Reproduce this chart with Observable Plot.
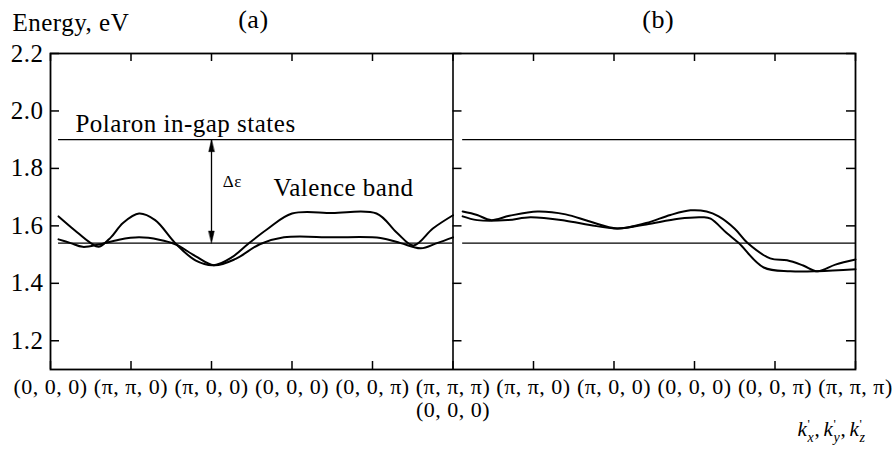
<!DOCTYPE html>
<html>
<head>
<meta charset="utf-8">
<script src="https://cdn.jsdelivr.net/npm/d3@7"></script>
<script src="https://cdn.jsdelivr.net/npm/@observablehq/plot@0.6"></script>
<style>
  body { margin: 0; background: #fff; font-family: "Liberation Serif", serif; }
  svg { display: block; }
</style>
</head>
<body>
<div id="chart"></div>
<script>
// ---------- data ----------
const kTicks = [0, 1, 2, 3, 4, 5, 6, 7, 8, 9, 10];
const kTickLabels = [
  "(0, 0, 0)", "(π, π, 0)", "(π, 0, 0)", "(0, 0, 0)", "(0, 0, π)",
  "(π, π, π)\n(0, 0, 0)",
  "(π, π, 0)", "(π, 0, 0)", "(0, 0, 0)", "(0, 0, π)", "(π, π, π)"
];
const energyTicks = [1.2, 1.4, 1.6, 1.8, 2.0, 2.2];
const energyDomain = [1.1, 2.2];
const panelLabels = ["(a)", "(b)"];
const panelCenters = [2.52, 7.55];
const panelDivider = [5];

// panel (a), band 1
const bandA1K = [0.1, 0.3, 0.5, 0.6, 0.75, 0.9, 1.1, 1.3, 1.55, 1.8, 2.03, 2.25, 2.45, 2.7, 3.0, 3.5, 4.05, 4.3, 4.51, 4.75, 5.0];
const bandA1E = [1.633, 1.585, 1.54, 1.527, 1.56, 1.61, 1.643, 1.62, 1.54, 1.48, 1.463, 1.49, 1.536, 1.59, 1.643, 1.645, 1.643, 1.577, 1.532, 1.591, 1.637];
// panel (a), band 2
const bandA2K = [0.1, 0.25, 0.4, 0.6, 0.85, 1.1, 1.35, 1.55, 1.8, 2.03, 2.3, 2.6, 2.9, 3.5, 4.1, 4.35, 4.6, 4.8, 5.0];
const bandA2E = [1.553, 1.54, 1.527, 1.535, 1.552, 1.56, 1.552, 1.536, 1.495, 1.463, 1.485, 1.536, 1.56, 1.56, 1.558, 1.54, 1.522, 1.54, 1.56];
// panel (b), band 1
const bandB1K = [5.12, 5.3, 5.47, 5.7, 6.05, 6.4, 6.7, 7.04, 7.4, 7.7, 7.95, 8.15, 8.3, 8.5, 8.66, 8.94, 9.15, 9.35, 9.53, 9.75, 10];
const bandB1E = [1.65, 1.638, 1.62, 1.635, 1.65, 1.64, 1.615, 1.591, 1.61, 1.638, 1.654, 1.65, 1.633, 1.59, 1.54, 1.487, 1.48, 1.462, 1.442, 1.465, 1.483];
// panel (b), band 2
const bandB2K = [5.12, 5.3, 5.68, 5.96, 6.4, 6.7, 7.04, 7.4, 7.8, 8.1, 8.2, 8.4, 8.55, 8.86, 9.19, 9.53, 10];
const bandB2E = [1.633, 1.62, 1.62, 1.63, 1.618, 1.603, 1.591, 1.605, 1.625, 1.63, 1.625, 1.575, 1.54, 1.455, 1.442, 1.442, 1.449];

// reference levels: polaron in-gap states and valence-band top
const levelNames = ["polaron a", "polaron b", "valence a", "valence b"];
const levelE = [1.9, 1.9, 1.54, 1.54];
const levelK1 = [0.1, 5.12, 0.1, 5.12];
const levelK2 = [5.0, 10, 5.0, 10];

// gap arrow
const gapArrowK = [2];
const gapArrowTop = [1.9];
const gapArrowBottom = [1.54];

// annotations
const noteTexts = ["Polaron in-gap states", "Δε", "Valence band"];
const noteK = [0.31, 2.14, 2.77];
const noteE = [1.9, 1.737, 1.703];
const noteSize = [25, 17, 25];
const noteDy = [-8, 0, 0];

// k-axis title pieces: k, prime, subscript, comma
const kTitleSubs = ["x", "y", "z"];

// ---------- build tables ----------
const bands = [];
function addBand(name, ks, es) { ks.forEach((k, i) => bands.push({band: name, k, e: es[i]})); }
addBand("a1", bandA1K, bandA1E);
addBand("a2", bandA2K, bandA2E);
addBand("b1", bandB1K, bandB1E);
addBand("b2", bandB2K, bandB2E);

const levels = levelNames.map((n, i) => ({name: n, e: levelE[i], k1: levelK1[i], k2: levelK2[i]}));
const notes = noteTexts.map((t, i) => ({t, k: noteK[i], e: noteE[i], size: noteSize[i], dy: noteDy[i]}));

const serif = "Liberation Serif";
const W = 896, Hh = 449, mL = 50, mR = 41, mT = 53, mB = 80;
const frameW = W - mL - mR, frameH = Hh - mT - mB;
const tickLen = 8;
const head = {draw(ctx, l) { ctx.moveTo(0, 0); ctx.lineTo(-2.8, l); ctx.lineTo(2.8, l); ctx.closePath(); }};

// k-axis title marks (placed relative to the bottom-right corner of the frame)
const kTitleMarks = [];
kTitleSubs.forEach((s, i) => {
  const gx = -58 + i * 26;
  const base = {frameAnchor: "bottom-right", textAnchor: "start", lineAnchor: "bottom", fontFamily: serif, fill: "black"};
  kTitleMarks.push(Plot.text(["k"], {...base, text: d => d, dx: gx, dy: 66, fontSize: 21, fontStyle: "italic"}));
  kTitleMarks.push(Plot.text(["'"], {...base, text: d => d, dx: gx + 10, dy: 58, fontSize: 13}));
  kTitleMarks.push(Plot.text([s], {...base, text: d => d, dx: gx + 10, dy: 72, fontSize: 14, fontStyle: "italic"}));
  if (i < kTitleSubs.length - 1) kTitleMarks.push(Plot.text([","], {...base, text: d => d, dx: gx + 17, dy: 66, fontSize: 21}));
});

const chart = Plot.plot({
  width: W,
  height: Hh,
  marginLeft: mL,
  marginRight: mR,
  marginTop: mT,
  marginBottom: mB,
  x: {domain: [0, 10], axis: null},
  y: {domain: energyDomain, axis: null},
  marks: [
    // frame and divider
    Plot.frame({strokeWidth: 1.8, stroke: "black"}),
    Plot.ruleX(panelDivider, {strokeWidth: 1.6, stroke: "black"}),
    // inward ticks
    Plot.ruleX(kTicks, {x: d => d, insetTop: frameH - tickLen, strokeWidth: 1.5, stroke: "black"}),
    Plot.ruleX(kTicks, {x: d => d, insetBottom: frameH - tickLen, strokeWidth: 1.5, stroke: "black"}),
    Plot.ruleY(energyTicks, {y: d => d, insetRight: frameW - tickLen - 1, strokeWidth: 1.5, stroke: "black"}),
    Plot.ruleY(energyTicks, {y: d => d, insetLeft: frameW - tickLen - 1, strokeWidth: 1.5, stroke: "black"}),
    Plot.ruleY(energyTicks, {y: d => d, x1: () => panelDivider[0], x2: () => 10, insetRight: frameW / 2 - tickLen - 1, strokeWidth: 1.5, stroke: "black"}),
    // tick labels
    Plot.axisX(kTicks, {anchor: "bottom", tickSize: 0, tickPadding: 8, tickFormat: (d, i) => kTickLabels[i], fontSize: 22, lineHeight: 1.05, fontFamily: serif, fill: "black", label: null}),
    Plot.axisY(energyTicks, {anchor: "left", tickSize: 0, tickPadding: 7, tickFormat: d => d.toFixed(1), fontSize: 25, fontFamily: serif, fill: "black", label: null}),
    // reference levels
    Plot.ruleY(levels, {y: "e", x1: "k1", x2: "k2", strokeWidth: 1.3, stroke: "black"}),
    // gap arrow
    Plot.ruleX(gapArrowK, {x: d => d, y1: (d, i) => gapArrowTop[i], y2: (d, i) => gapArrowBottom[i] + 0.03, strokeWidth: 1.3, stroke: "black"}),
    Plot.vector(gapArrowK, {x: d => d, y: (d, i) => gapArrowTop[i], length: 12, rotate: 0, anchor: "start", shape: head, fill: "black", stroke: "black", strokeWidth: 0.5}),
    Plot.vector(gapArrowK, {x: d => d, y: (d, i) => gapArrowBottom[i], length: 12, rotate: 180, anchor: "start", shape: head, fill: "black", stroke: "black", strokeWidth: 0.5}),
    // bands
    Plot.line(bands, {x: "k", y: "e", z: "band", curve: "catmull-rom", strokeWidth: 2, stroke: "black"}),
    // annotations
    ...notes.map(n => Plot.text([n], {x: "k", y: "e", text: "t", fontSize: n.size, dy: n.dy, textAnchor: "start", lineAnchor: "bottom", fontFamily: serif, fill: "black"})),
    Plot.text(["Energy, eV"], {text: d => d, frameAnchor: "top-left", dx: -38, dy: -23, textAnchor: "start", lineAnchor: "bottom", fontSize: 25, fontFamily: serif, fill: "black"}),
    Plot.text(panelLabels, {text: d => d, x: (d, i) => panelCenters[i], frameAnchor: "top", dy: -26, lineAnchor: "bottom", fontSize: 26, fontFamily: serif, fill: "black"}),
    ...kTitleMarks
  ]
});

document.getElementById("chart").appendChild(chart);

// slightly looser letter spacing, as in the reference typesetting
d3.select(chart).selectAll("text").filter(function() { return this.textContent.length > 1; }).attr("letter-spacing", "0.5");
</script>
</body>
</html>
